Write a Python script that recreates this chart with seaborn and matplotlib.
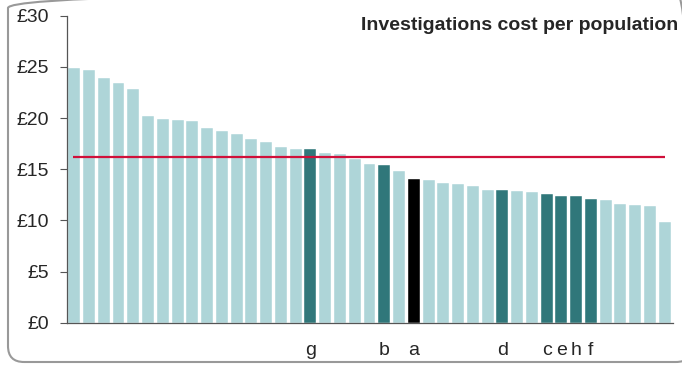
import numpy as np
import pandas as pd
import matplotlib
matplotlib.use("Agg")
import matplotlib.pyplot as plt
import seaborn as sns
from matplotlib.patches import FancyBboxPatch

# values (sorted, £ per population)
costs = [24.9, 24.7, 23.95, 23.4, 22.8, 20.2, 19.9, 19.85, 19.7, 19.06,
         18.77, 18.48, 17.96, 17.7, 17.2, 16.95, 16.95, 16.56, 16.5, 16.0,
         15.55, 15.45, 14.86, 14.05, 13.95, 13.7, 13.6, 13.36, 13.0, 12.94,
         12.9, 12.75, 12.55, 12.36, 12.36, 12.06, 12.0, 11.6, 11.55, 11.45,
         9.87]
labels = [""] * 41
labels[16] = "g"
labels[21] = "b"
labels[23] = "a"
labels[29] = "d"
labels[32] = "c"
labels[33] = "e"
labels[34] = "h"
labels[35] = "f"
average = 16.17
yticks = [0, 5, 10, 15, 20, 25, 30]

light = "#aed5d8"
dark = "#30777a"
colors = [light] * 41
for i, lab in enumerate(labels):
    if lab:
        colors[i] = dark
colors[23] = "#000000"

df = pd.DataFrame({"pos": [str(i) for i in range(41)], "cost": costs})

sns.set_style("white")
plt.rcParams["font.family"] = ["Liberation Sans", "DejaVu Sans"]

fig = plt.figure(figsize=(6.82, 3.67), dpi=100)
ax = fig.add_axes([0.0978, 0.1207, 0.8886, 0.8363])

sns.barplot(data=df, x="pos", y="cost", hue="pos", palette=colors,
            legend=False, width=0.81, saturation=1, ax=ax,
            edgecolor="white", linewidth=0.3)

ax.hlines(average, -0.1, 40.05, color="#d0103a", linewidth=1.6, zorder=5)

ax.set_xlim(-0.51, 40.54)
ax.set_ylim(0, 30)
ax.set_yticks(yticks)
ax.set_yticklabels(["£%d" % v for v in yticks], fontsize=14)
ax.set_xticks(range(41))
ax.set_xticklabels(labels, fontsize=14)
ax.tick_params(axis="x", length=0, pad=14)
ax.tick_params(axis="y", length=5, width=0.8, color="#555555", pad=8, left=True)
ax.set_xlabel("")
ax.set_ylabel("")
sns.despine(ax=ax, top=True, right=True)
for s in ["left", "bottom"]:
    ax.spines[s].set_color("#555555")
    ax.spines[s].set_linewidth(0.9)

fig.text(0.994, 0.953, "Investigations cost per population",
         ha="right", va="top", fontsize=14, fontweight="bold")

frame = FancyBboxPatch((0.08, 0.05), 6.84, 3.7,
                       boxstyle="round,pad=0,rounding_size=0.16",
                       transform=fig.dpi_scale_trans, fill=False,
                       edgecolor="#999999", linewidth=1.5, clip_on=False)
fig.patches.append(frame)

fig.savefig("out.png", dpi=100)
